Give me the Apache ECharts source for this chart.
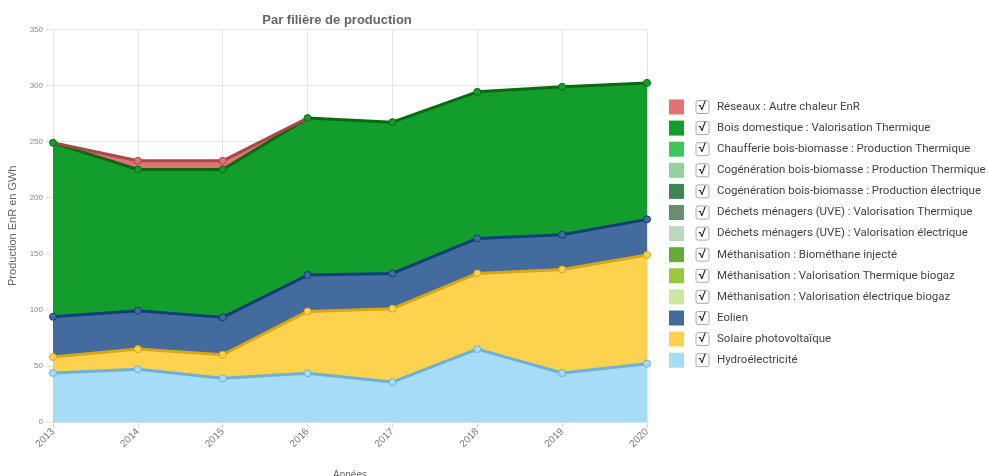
<!DOCTYPE html>
<html>
<head>
<meta charset="utf-8">
<script src="https://cdn.jsdelivr.net/npm/echarts@6/dist/echarts.min.js"></script>
<style>
html,body{margin:0;padding:0;background:#fff;}
#chart{width:989px;height:476px;}
</style>
</head>
<body>
<div id="chart"></div>
<script>
var years = ['2013','2014','2015','2016','2017','2018','2019','2020'];
var hydro = [43.7, 47, 39, 43.4, 35.6, 65, 43.7, 52];
var solaire = [14.3, 18, 21, 55.2, 65.4, 67.5, 92.3, 97];
var eolien = [35.9, 34.2, 33.3, 32.4, 31.5, 31.2, 31, 31.7];
var boisDomestique = [155.1, 126, 131.9, 140, 134.9, 130.7, 131.9, 121.7];
var reseaux = [0, 7.7, 7.7, 0, null, null, null, null];
var vide = [null, null, null, null, null, null, null, null];

var seriesDefs = [
  {name:'Hydroélectricité', data:hydro, fill:'#a7dcf6', line:'#6fb0d6'},
  {name:'Solaire photovoltaïque', data:solaire, fill:'#fdd24f', line:'#d7a814'},
  {name:'Eolien', data:eolien, fill:'#436b9e', line:'#0d3f78'},
  {name:'Méthanisation : Valorisation électrique biogaz', data:vide, fill:'#cde6a0', line:'#cde6a0'},
  {name:'Méthanisation : Valorisation Thermique biogaz', data:vide, fill:'#98c83b', line:'#98c83b'},
  {name:'Méthanisation : Biométhane injecté', data:vide, fill:'#68a93b', line:'#68a93b'},
  {name:'Déchets ménagers (UVE) : Valorisation électrique', data:vide, fill:'#bcd8c1', line:'#bcd8c1'},
  {name:'Déchets ménagers (UVE) : Valorisation Thermique', data:vide, fill:'#6a8c6f', line:'#6a8c6f'},
  {name:'Cogénération bois-biomasse : Production électrique', data:vide, fill:'#3e8552', line:'#3e8552'},
  {name:'Cogénération bois-biomasse : Production Thermique', data:vide, fill:'#93d19f', line:'#93d19f'},
  {name:'Chaufferie bois-biomasse : Production Thermique', data:vide, fill:'#3ec65a', line:'#3ec65a'},
  {name:'Bois domestique : Valorisation Thermique', data:boisDomestique, fill:'#129d2c', line:'#0a6a14'},
  {name:'Réseaux : Autre chaleur EnR', data:reseaux, fill:'#e07373', line:'#a84848'}
];

var series = seriesDefs.map(function(s){
  return {
    name: s.name,
    type: 'line',
    stack: 'total',
    data: s.data,
    color: s.fill,
    symbol: 'circle',
    symbolSize: function(v){ return v ? 7 : 0; },
    showSymbol: true,
    connectNulls: false,
    lineStyle: {color: s.line, width: 3},
    itemStyle: {color: s.fill, borderColor: s.line, borderWidth: 1},
    areaStyle: {color: s.fill, opacity: 1},
    emphasis: {disabled: true}
  };
});

var legendOrder = seriesDefs.map(function(s){return s.name;}).reverse();

var chart = echarts.init(document.getElementById('chart'), null, {renderer:'canvas'});
chart.setOption({
  animation: false,
  title: {
    text: 'Par filière de production',
    left: 332, top: 9, textAlign: 'center',
    textStyle: {fontFamily: 'Arial, Liberation Sans', fontSize: 13, fontWeight: 'bold', color: '#666'}
  },
  grid: {left: 53, right: 342, top: 29.5, bottom: 54, containLabel: false, outerBoundsMode: 'none'},
  legend: {
    orient: 'vertical',
    left: 669, top: 99.5,
    padding: 0,
    itemWidth: 15, itemHeight: 15, itemGap: 6.1,
    icon: 'rect',
    itemStyle: {borderWidth: 0},
    data: legendOrder,
    selectedMode: false,
    formatter: function(name){ return '{g|}{box|√}{g2|}{t|' + name + '}'; },
    textStyle: {
      fontFamily: 'Roboto, Noto Sans', fontSize: 11.5, color: '#444',
      rich: {
        g: {width: 7},
        box: {width: 13, height: 13, align: 'center', borderColor: '#aaa', borderWidth: 1, borderRadius: 2, fontSize: 13, color: '#222', lineHeight: 13},
        g2: {width: 8},
        t: {fontFamily: 'Roboto, Noto Sans', fontSize: 11.5, color: '#444'}
      }
    }
  },
  xAxis: {
    type: 'category',
    data: years,
    boundaryGap: false,
    name: 'Années',
    nameLocation: 'middle',
    nameGap: 48,
    nameTextStyle: {fontFamily: 'Arial, Liberation Sans', fontSize: 10, color: '#666'},
    axisLine: {show: true, lineStyle: {color: '#ddd'}},
    axisTick: {show: true, alignWithLabel: true, length: 6, lineStyle: {color: '#ddd'}},
    splitLine: {show: true, lineStyle: {color: '#e5e5e5'}},
    axisLabel: {rotate: 45, fontFamily: 'Arial, Liberation Sans', fontSize: 10, color: '#777', margin: 8}
  },
  yAxis: {
    type: 'value',
    min: 0, max: 350, interval: 50,
    name: 'Production EnR en GWh',
    nameLocation: 'middle',
    nameGap: 33,
    nameTextStyle: {fontFamily: 'Arial, Liberation Sans', fontSize: 11, color: '#666'},
    axisLine: {show: false},
    axisTick: {show: true, length: 8, lineStyle: {color: '#e5e5e5'}},
    splitLine: {show: true, lineStyle: {color: '#e5e5e5'}},
    axisLabel: {fontFamily: 'Arial, Liberation Sans', fontSize: 8, color: '#888', margin: 10}
  },
  series: series
});
</script>
</body>
</html>
